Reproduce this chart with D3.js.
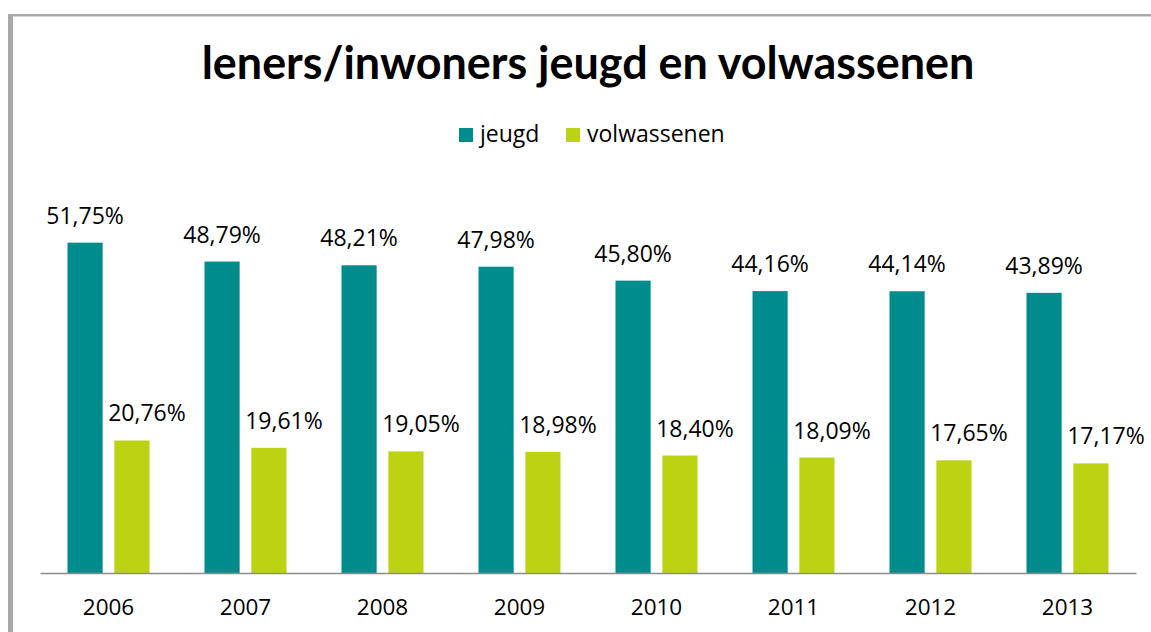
<!DOCTYPE html>
<html lang="nl">

<head>
  <title>leners/inwoners jeugd en volwassenen</title>
  <meta charset="UTF-8">
  <style>
    body {
      margin: 0;
      background: #fff;
    }
    svg text {
      font-family: "Open Sans", sans-serif;
      fill: #000;
    }
  </style>
</head>

<body>
  <div id="container"></div>
  <script src="https://cdn.jsdelivr.net/npm/d3@7"></script>
  <script>
    // chart data
    const years = ['2006', '2007', '2008', '2009', '2010', '2011', '2012', '2013'];
    const jeugd = [51.75, 48.79, 48.21, 47.98, 45.80, 44.16, 44.14, 43.89];
    const volwassenen = [20.76, 19.61, 19.05, 18.98, 18.40, 18.09, 17.65, 17.17];
    const seriesNames = ['jeugd', 'volwassenen'];
    const colors = ['#008C8C', '#BBD312'];
    const title = 'leners/inwoners jeugd en volwassenen';

    const size = { w: 1151, h: 632 };
    const plot = { left: 40, right: 1136, top: 190, bottom: 573 };

    const svg = d3.select('#container')
      .append('svg')
      .attr('width', size.w)
      .attr('height', size.h);

    // frame (only left and top edges visible in the crop)
    svg.append('rect').attr('x', 8).attr('y', 14).attr('width', 5).attr('height', size.h).attr('fill', '#A9A9A9');
    svg.append('rect').attr('x', 8).attr('y', 14).attr('width', size.w).attr('height', 2.5).attr('fill', '#A9A9A9');

    // title
    const t = svg.append('text')
      .attr('x', 588)
      .attr('y', 79)
      .attr('text-anchor', 'middle')
      .style('font-family', 'Lato, sans-serif')
      .style('font-weight', 'bold')
      .style('font-size', '40px')
      .text(title);
    // fit to the width seen in the reference
    const tw = t.node().getComputedTextLength();
    t.style('font-size', (40 * 773 / tw) + 'px');

    // scales
    const x0 = d3.scaleBand()
      .domain(years)
      .range([plot.left, plot.right]);

    const x1 = d3.scaleBand()
      .domain(seriesNames)
      .range([0, 82])
      .paddingInner(0.25);

    const y = d3.scaleLinear()
      .domain([0, 60])
      .range([plot.bottom, plot.top]);

    const rows = years.map((yr, i) => ({
      year: yr,
      values: [
        { key: 'jeugd', value: jeugd[i] },
        { key: 'volwassenen', value: volwassenen[i] }
      ]
    }));

    const groupOffset = (x0.bandwidth() - 82) / 2;

    const groups = svg.append('g')
      .selectAll('g')
      .data(rows)
      .join('g')
      .attr('transform', d => `translate(${x0(d.year) + groupOffset},0)`);

    groups.selectAll('rect')
      .data(d => d.values)
      .join('rect')
      .attr('x', d => x1(d.key))
      .attr('y', d => y(d.value))
      .attr('width', x1.bandwidth())
      .attr('height', d => y(0) - y(d.value))
      .attr('fill', (d, i) => colors[i]);

    const fmt = v => v.toFixed(2).replace('.', ',') + '%';

    groups.selectAll('text')
      .data(d => d.values)
      .join('text')
      .attr('x', (d, i) => x1(d.key) + x1.bandwidth() / 2 + (i === 1 ? 15 : 0))
      .attr('y', d => y(d.value) - 19)
      .attr('text-anchor', 'middle')
      .style('font-size', '23px')
      .text(d => fmt(d.value));

    // baseline + category labels
    const xAxis = svg.append('g')
      .attr('transform', `translate(0,${plot.bottom})`)
      .call(d3.axisBottom(x0).tickSize(0).tickPadding(26));
    xAxis.select('.domain').attr('stroke', '#8C8C8C').attr('stroke-width', 1.5);
    xAxis.selectAll('text')
      .style('font-family', '"Open Sans", sans-serif')
      .style('font-size', '22.5px')
      .attr('fill', '#000');

    // legend
    const legendX = [459, 566];
    const legend = svg.append('g')
      .selectAll('g')
      .data(seriesNames)
      .join('g')
      .attr('transform', (d, i) => `translate(${legendX[i]},128)`);
    legend.append('rect')
      .attr('width', 14)
      .attr('height', 14)
      .attr('fill', (d, i) => colors[i]);
    legend.append('text')
      .attr('x', 21)
      .attr('y', 14)
      .style('font-size', '23px')
      .text(d => d);
  </script>
</body>

</html>
